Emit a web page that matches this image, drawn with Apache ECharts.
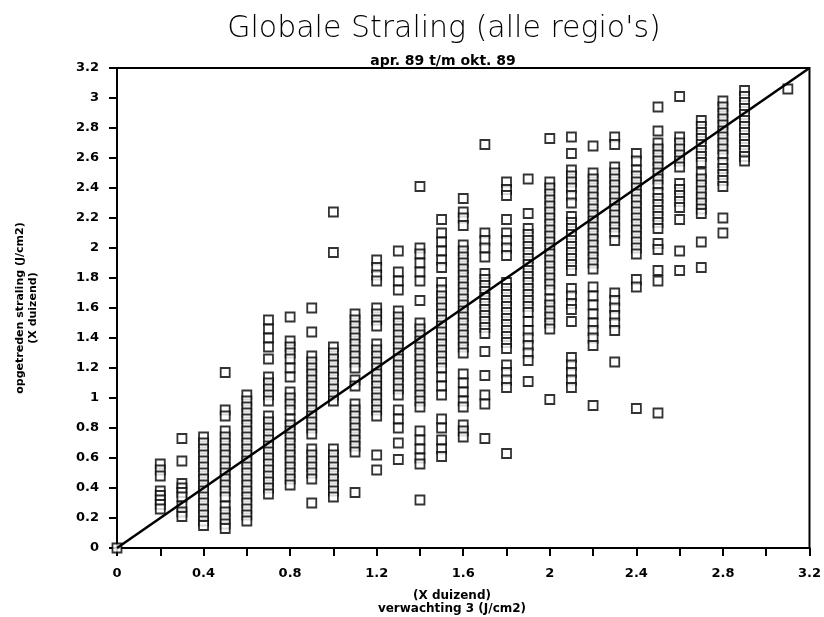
<!DOCTYPE html>
<html>
<head>
<meta charset="utf-8">
<script src="https://cdn.jsdelivr.net/npm/echarts@6/dist/echarts.min.js"></script>
<style>
  body { margin: 0; background: #fff; }
  #chart { width: 824px; height: 617px; }
</style>
</head>
<body>
<div id="chart"></div>
<script>
// verwachting (x) per kolom
var xCols = [0.2, 0.3, 0.4, 0.5, 0.6, 0.7, 0.8, 0.9, 1.0, 1.1, 1.2, 1.3, 1.4, 1.5, 1.6,
             1.7, 1.8, 1.9, 2.0, 2.1, 2.2, 2.3, 2.4, 2.5, 2.6, 2.7, 2.8, 2.9, 3.1]
// opgetreden straling per kolom
var yCols = [
  [0.56, 0.52, 0.48, 0.38, 0.35, 0.32, 0.29, 0.26],
  [0.73, 0.58, 0.43, 0.40, 0.37, 0.34, 0.28, 0.24, 0.21],
  [0.74, 0.70, 0.66, 0.62, 0.58, 0.54, 0.50, 0.46, 0.42, 0.38, 0.34, 0.30, 0.26, 0.22, 0.18, 0.15],
  [1.17, 0.92, 0.88, 0.78, 0.74, 0.70, 0.66, 0.62, 0.58, 0.54, 0.50, 0.46, 0.42, 0.38, 0.34, 0.28, 0.24, 0.20, 0.16, 0.13],
  [1.02, 0.98, 0.94, 0.90, 0.86, 0.82, 0.78, 0.74, 0.70, 0.66, 0.62, 0.58, 0.54, 0.50, 0.46, 0.42, 0.38, 0.34, 0.30, 0.26, 0.22, 0.18],
  [1.52, 1.46, 1.40, 1.34, 1.26, 1.14, 1.10, 1.06, 1.02, 0.98, 0.88, 0.84, 0.80, 0.76, 0.72, 0.68, 0.64, 0.60, 0.56, 0.52, 0.48, 0.44, 0.40, 0.36],
  [1.54, 1.38, 1.34, 1.30, 1.26, 1.20, 1.14, 1.04, 1.00, 0.96, 0.92, 0.86, 0.82, 0.78, 0.74, 0.70, 0.66, 0.62, 0.58, 0.54, 0.50, 0.46, 0.42],
  [1.60, 1.44, 1.28, 1.24, 1.20, 1.16, 1.12, 1.08, 1.04, 1.00, 0.96, 0.92, 0.88, 0.84, 0.80, 0.76, 0.66, 0.62, 0.58, 0.54, 0.50, 0.46, 0.30],
  [2.24, 1.97, 1.34, 1.30, 1.26, 1.22, 1.18, 1.14, 1.10, 1.06, 1.02, 0.98, 0.66, 0.62, 0.58, 0.54, 0.50, 0.46, 0.42, 0.38, 0.34],
  [1.56, 1.52, 1.48, 1.44, 1.40, 1.36, 1.32, 1.28, 1.24, 1.20, 1.12, 1.08, 0.96, 0.92, 0.88, 0.84, 0.80, 0.76, 0.72, 0.68, 0.64, 0.37],
  [1.92, 1.87, 1.82, 1.78, 1.60, 1.56, 1.52, 1.48, 1.36, 1.32, 1.28, 1.24, 1.20, 1.16, 1.12, 1.08, 1.04, 1.00, 0.96, 0.92, 0.88, 0.62, 0.52],
  [1.98, 1.84, 1.78, 1.72, 1.58, 1.54, 1.50, 1.46, 1.42, 1.38, 1.34, 1.30, 1.26, 1.22, 1.18, 1.14, 1.10, 1.06, 1.02, 0.92, 0.86, 0.80, 0.70, 0.59],
  [2.41, 2.00, 1.96, 1.90, 1.84, 1.78, 1.65, 1.50, 1.46, 1.42, 1.38, 1.34, 1.30, 1.26, 1.22, 1.18, 1.14, 1.10, 1.06, 1.02, 0.98, 0.94, 0.78, 0.72, 0.66, 0.60, 0.56, 0.32],
  [2.19, 2.10, 2.04, 1.98, 1.92, 1.87, 1.77, 1.72, 1.68, 1.64, 1.60, 1.56, 1.52, 1.48, 1.44, 1.40, 1.36, 1.32, 1.28, 1.24, 1.20, 1.14, 1.08, 1.02, 0.86, 0.80, 0.72, 0.66, 0.61],
  [2.33, 2.24, 2.20, 2.15, 2.02, 1.98, 1.94, 1.90, 1.86, 1.82, 1.78, 1.74, 1.70, 1.66, 1.62, 1.58, 1.54, 1.50, 1.46, 1.42, 1.38, 1.34, 1.30, 1.16, 1.10, 1.04, 0.98, 0.94, 0.82, 0.78, 0.74],
  [2.69, 2.10, 2.05, 2.00, 1.94, 1.83, 1.79, 1.75, 1.71, 1.67, 1.63, 1.59, 1.55, 1.51, 1.47, 1.43, 1.31, 1.15, 1.02, 0.96, 0.73],
  [2.44, 2.39, 2.35, 2.19, 2.10, 2.05, 2.00, 1.95, 1.77, 1.73, 1.69, 1.65, 1.61, 1.57, 1.53, 1.49, 1.45, 1.41, 1.37, 1.33, 1.22, 1.17, 1.12, 1.07, 0.63],
  [2.46, 2.23, 2.13, 2.09, 2.05, 2.01, 1.97, 1.93, 1.89, 1.85, 1.81, 1.77, 1.73, 1.69, 1.65, 1.61, 1.57, 1.51, 1.45, 1.40, 1.35, 1.30, 1.25, 1.11],
  [2.73, 2.44, 2.40, 2.36, 2.32, 2.28, 2.24, 2.20, 2.16, 2.12, 2.08, 2.04, 2.00, 1.96, 1.92, 1.88, 1.84, 1.80, 1.76, 1.72, 1.66, 1.62, 1.58, 1.54, 1.50, 1.46, 0.99],
  [2.74, 2.63, 2.52, 2.48, 2.44, 2.40, 2.35, 2.30, 2.21, 2.17, 2.13, 2.09, 2.05, 2.01, 1.97, 1.93, 1.89, 1.85, 1.73, 1.68, 1.63, 1.59, 1.51, 1.27, 1.22, 1.17, 1.12, 1.07],
  [2.68, 2.50, 2.46, 2.42, 2.38, 2.34, 2.30, 2.26, 2.22, 2.18, 2.14, 2.10, 2.06, 2.02, 1.98, 1.94, 1.90, 1.86, 1.74, 1.68, 1.62, 1.56, 1.50, 1.45, 1.40, 1.35, 0.95],
  [2.74, 2.69, 2.54, 2.50, 2.46, 2.42, 2.38, 2.34, 2.30, 2.26, 2.22, 2.18, 2.14, 2.10, 2.05, 1.70, 1.65, 1.60, 1.55, 1.50, 1.45, 1.24],
  [2.63, 2.58, 2.52, 2.48, 2.44, 2.40, 2.36, 2.32, 2.28, 2.24, 2.20, 2.16, 2.12, 2.08, 2.04, 2.00, 1.96, 1.79, 1.74, 0.93],
  [2.94, 2.78, 2.70, 2.66, 2.62, 2.58, 2.54, 2.50, 2.46, 2.42, 2.37, 2.33, 2.29, 2.25, 2.21, 2.17, 2.13, 2.03, 1.99, 1.85, 1.78, 0.90],
  [3.01, 2.74, 2.70, 2.66, 2.62, 2.58, 2.54, 2.43, 2.39, 2.35, 2.31, 2.27, 2.19, 1.98, 1.85],
  [2.85, 2.81, 2.77, 2.73, 2.69, 2.65, 2.61, 2.57, 2.50, 2.46, 2.42, 2.38, 2.34, 2.30, 2.26, 2.23, 2.04, 1.87],
  [2.98, 2.94, 2.90, 2.86, 2.82, 2.78, 2.74, 2.70, 2.66, 2.62, 2.57, 2.53, 2.49, 2.45, 2.41, 2.20, 2.10],
  [3.05, 3.01, 2.97, 2.93, 2.89, 2.85, 2.81, 2.77, 2.73, 2.69, 2.65, 2.61, 2.58],
  [3.06]
]
var originPoint = [0, 0]
var diagonal = [[0, 0], [3.2, 3.2]]
var xLabels = ['0', '0.4', '0.8', '1.2', '1.6', '2', '2.4', '2.8', '3.2']

var points = [originPoint]
xCols.forEach(function (x, i) {
  yCols[i].forEach(function (y) { points.push([x, y]) })
})

var fnt = 'DejaVu Sans'
var myChart = echarts.init(document.getElementById('chart'))
myChart.setOption({
  backgroundColor: '#fff',
  animation: false,
  title: [
    { text: "Globale Straling (alle regio's)", left: 439, top: 9, textAlign: 'center',
      textStyle: { fontFamily: fnt, fontWeight: 200, fontSize: 30, color: '#000' } },
    { text: 'apr. 89 t/m okt. 89', left: 438, top: 49, textAlign: 'center',
      textStyle: { fontFamily: fnt, fontWeight: 'bold', fontSize: 14, color: '#000' } },
    { text: '(X duizend)', left: 447, top: 585, textAlign: 'center',
      textStyle: { fontFamily: fnt, fontWeight: 'bold', fontSize: 12, color: '#000' } },
    { text: 'verwachting 3 (J/cm2)', left: 447, top: 598, textAlign: 'center',
      textStyle: { fontFamily: fnt, fontWeight: 'bold', fontSize: 12, color: '#000' } }
  ],
  graphic: [
    { type: 'text', x: 20, y: 308, rotation: Math.PI / 2, style: {
        text: 'opgetreden straling (J/cm2)', font: 'bold 11px DejaVu Sans', fill: '#000',
        textAlign: 'center', textVerticalAlign: 'middle' } },
    { type: 'text', x: 33, y: 308, rotation: Math.PI / 2, style: {
        text: '(X duizend)', font: 'bold 11px DejaVu Sans', fill: '#000',
        textAlign: 'center', textVerticalAlign: 'middle' } }
  ],
  grid: { left: 117, right: 12, top: 68, bottom: 69, show: true,
          borderColor: '#000', borderWidth: 2, backgroundColor: 'transparent' },
  xAxis: {
    type: 'value', min: 0, max: 3.2, interval: 0.2,
    axisLine: { lineStyle: { color: '#000', width: 2 } },
    axisTick: { length: 8, lineStyle: { color: '#000', width: 2 } },
    splitLine: { show: false },
    axisLabel: {
      color: '#000', fontFamily: fnt, fontWeight: 'bold', fontSize: 13, margin: 19,
      formatter: function (v) {
        var k = Math.round(v * 10)
        return k % 4 === 0 ? xLabels[k / 4] : ''
      }
    }
  },
  yAxis: {
    type: 'value', min: 0, max: 3.2, interval: 0.2,
    axisLine: { lineStyle: { color: '#000', width: 2 } },
    axisTick: { length: 8, lineStyle: { color: '#000', width: 2 } },
    splitLine: { show: false },
    axisLabel: {
      color: '#000', fontFamily: fnt, fontWeight: 'bold', fontSize: 13, margin: 18,
      formatter: function (v) { return String(Math.round(v * 10) / 10) }
    }
  },
  series: [
    {
      type: 'scatter', data: points, symbol: 'rect', symbolSize: 9,
      itemStyle: { color: '#fff', borderColor: '#000', borderWidth: 1.8 },
      z: 2
    },
    {
      type: 'line', data: diagonal, showSymbol: false,
      lineStyle: { color: '#000', width: 2.5 }, z: 3
    }
  ]
})
</script>
</body>
</html>
